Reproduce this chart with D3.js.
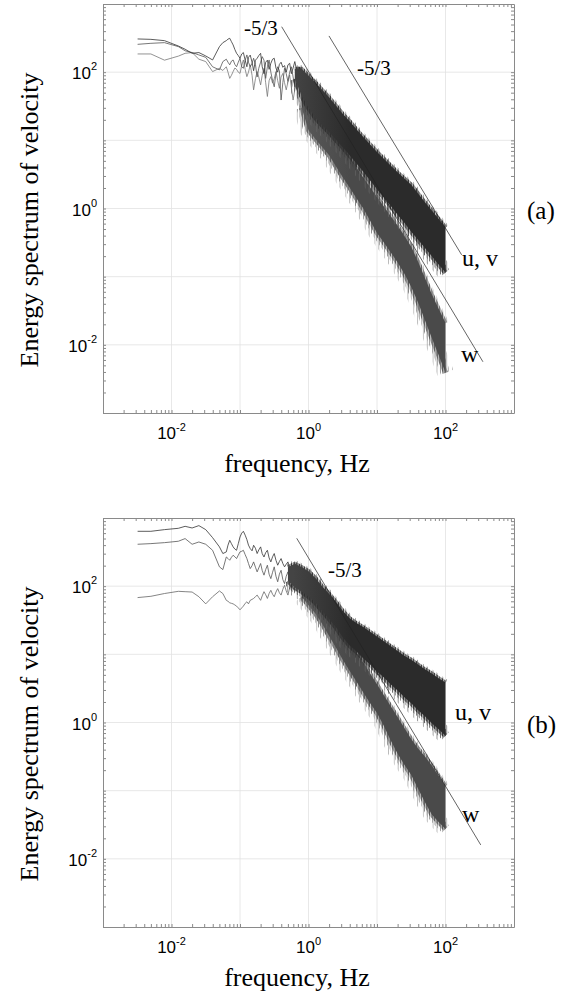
<!DOCTYPE html>
<html>
<head>
<meta charset="utf-8">
<script src="https://cdn.jsdelivr.net/npm/d3@7/dist/d3.min.js"></script>
<style>
  body { margin: 0; background: #fff; }
</style>
</head>
<body>
<script>
// low and middle frequency part of the spectra, one value per frequency
var lowFreq = [0.0032, 0.005, 0.0079, 0.0126, 0.0158, 0.02, 0.0251, 0.0316, 0.0398, 0.0501, 0.0562,
               0.0631, 0.0668, 0.0708, 0.075, 0.0794, 0.0841, 0.0891, 0.0944, 0.1,
               0.106, 0.112, 0.119, 0.126, 0.133, 0.141, 0.15, 0.158, 0.168, 0.178,
               0.188, 0.2, 0.211, 0.224, 0.237, 0.251, 0.266, 0.282, 0.299, 0.316,
               0.335, 0.355, 0.376, 0.398, 0.422, 0.447, 0.473, 0.501, 0.531, 0.562,
               0.596, 0.631, 0.668, 0.708, 0.75, 0.794, 0.841, 0.891, 0.944, 1.0];

// panel (a)
var uA = [307, 303, 290, 242, 217, 189, 194, 173, 151, 237, 271,
          290, 305, 314, 280, 251, 215, 189, 175, 160,
          185, 194, 150, 120, 165, 178, 140, 105, 150, 160,
          175, 189, 120, 95, 140, 150, 110, 135, 155, 160,
          115, 100, 130, 140, 118, 125, 100, 128, 135, 95,
          115, 143, 110, 92, 118, 105, 80, 95, 70, 85];
var vA = [256, 265, 271, 237, 206, 194, 179, 165, 120, 108, 143,
          155, 140, 128, 145, 151, 130, 120, 140, 160,
          120, 114, 150, 179, 140, 120, 135, 160, 130, 85,
          114, 140, 169, 150, 81, 120, 151, 100, 75, 61,
          95, 120, 105, 39, 70, 114, 95, 73, 100, 120,
          85, 61, 100, 120, 78, 49, 75, 86, 55, 45];
var wA = [185, 185, 150, 172, 189, 194, 155, 143, 102, 114, 106,
          120, 100, 81, 90, 102, 115, 110, 100, 96,
          125, 151, 110, 86, 100, 128, 90, 55, 80, 102,
          85, 65, 90, 114, 70, 44, 75, 86, 69, 80,
          102, 75, 58, 85, 96, 70, 55, 72, 91, 60,
          39, 55, 69, 45, 28, 40, 49, 30, 24, 35];

// panel (b)
var uB = [638, 638, 675, 706, 755, 714, 773, 675, 515, 377, 301,
          318, 400, 471, 420, 377, 350, 336, 420, 527,
          600, 638, 560, 482, 400, 356, 330, 398, 360, 301,
          340, 377, 300, 268, 310, 336, 260, 227, 270, 301,
          240, 203, 230, 254, 215, 192, 210, 227, 185, 162,
          190, 215, 180, 171, 185, 192, 150, 129, 150, 162];
var vB = [412, 421, 435, 456, 499, 412, 445, 412, 336, 192, 175,
          268, 255, 240, 265, 284, 270, 254, 285, 318,
          325, 336, 290, 254, 215, 181, 200, 227, 190, 162,
          185, 215, 170, 145, 175, 203, 150, 129, 160, 192,
          140, 116, 150, 171, 125, 109, 140, 162, 110, 87,
          120, 145, 105, 92, 118, 137, 95, 78, 100, 116];
var wB = [68, 71, 78, 84, 83, 82, 70, 55, 70, 85, 78,
          62, 60, 57, 56, 55, 53, 51, 48, 45,
          48, 51, 56, 59, 55, 62, 64, 66, 70, 74,
          68, 62, 72, 83, 75, 66, 78, 87, 76, 70,
          82, 92, 80, 74, 90, 103, 85, 74, 95, 109,
          95, 83, 100, 116, 92, 78, 98, 103, 85, 70];

// dense high frequency part: upper and lower edge of the noise
var bandFreq = [0.501, 0.631, 0.794, 1, 1.26, 1.58, 2, 2.51, 3.16, 3.98,
                5.01, 6.31, 7.94, 10, 12.6, 15.8, 20, 25.1, 31.6, 39.8,
                50.1, 63.1, 79.4, 100];

var uvTopA = [null, 112, 112, 89.1, 70.8, 55.0, 42.7, 32.4, 24.5, 19.1,
              14.5, 11.2, 8.71, 6.76, 5.37, 4.27, 3.39, 2.75, 2.24, 1.66,
              1.23, 0.933, 0.708, 0.525];
var uvBotA = [null, 80, 45, 30, 21.4, 16.6, 13.2, 10.2, 7.94, 6.03,
              4.57, 3.47, 2.57, 1.91, 1.45, 1.10, 0.813, 0.617, 0.457, 0.347,
              0.263, 0.200, 0.151, 0.115];
var wTopA = [null, null, 55, 38.0, 29.5, 22.4, 17.0, 12.6, 8.51, 5.75,
             3.98, 2.82, 2.04, 1.48, 1.07, 0.776, 0.562, 0.398, 0.275, 0.166,
             0.0955, 0.0550, 0.0339, 0.0209];
var wBotA = [null, null, 30, 14, 10.5, 8.0, 6.03, 4.17, 2.88, 2.04,
             1.41, 1.0, 0.661, 0.437, 0.316, 0.229, 0.162, 0.110, 0.0708, 0.0417,
             0.0229, 0.0126, 0.00708, 0.00389];

var uvTopB = [190, 214, 191, 166, 132, 100, 77.6, 58.9, 43.7, 33.9,
              28.8, 25.1, 21.4, 18.2, 15.5, 13.2, 11.2, 9.55, 8.32, 7.08,
              6.03, 5.25, 4.47, 3.85];
var uvBotB = [120, 95.5, 83.2, 70.8, 57.5, 43.7, 33.1, 25.1, 17.8, 13.5,
              11.0, 8.71, 7.08, 5.62, 4.57, 3.63, 2.95, 2.34, 1.91, 1.51,
              1.23, 0.977, 0.794, 0.638];
var wTopB = [null, null, 110, 112, 89.1, 66.1, 45.7, 31.6, 20.9, 14.5,
             10.7, 7.59, 5.25, 3.63, 2.51, 1.74, 1.20, 0.832, 0.575, 0.417,
             0.316, 0.234, 0.166, 0.117];
var wBotB = [null, null, 70, 52.5, 39.8, 28.2, 18.6, 12.6, 8.32, 5.75,
             3.98, 2.75, 1.91, 1.38, 0.891, 0.550, 0.347, 0.240, 0.170, 0.107,
             0.0676, 0.0447, 0.0347, 0.0275];

// -5/3 guide lines, [frequency, energy] at both ends
var slopesA = [[[0.406, 464], [352, 0.00564]], [[1.99, 340], [172, 0.209]]];
var slopesB = [[[0.673, 504], [327, 0.016]]];

var tickExp = [-2, 0, 2];

var w = 571, h = 996;
var left = 103, right = 514, ph = 409;
var serif = 'Liberation Serif, Times New Roman, serif';
var sans = 'Liberation Sans, Arial, sans-serif';

var svg = d3.select('body').append('svg')
            .attr('width', w)
            .attr('height', h);
var defs = svg.append('defs');

// vertical hair texture used along the edges of the noisy parts
function stripes(id, period, bars, color) {
  var p = defs.append('pattern').attr('id', id)
    .attr('patternUnits', 'userSpaceOnUse')
    .attr('width', period).attr('height', 4);
  bars.forEach(function (b) {
    p.append('rect').attr('x', b[0]).attr('y', 0)
      .attr('width', b[1]).attr('height', 4).attr('fill', color);
  });
}
stripes('uvDense', 2.6, [[0, 0.9], [1.5, 0.7]], '#2e2e2e');
stripes('uvMid', 5.3, [[0, 0.8], [2.9, 0.6]], '#3c3c3c');
stripes('uvSparse', 9.7, [[0, 0.7], [6.1, 0.6]], '#666');
stripes('wDense', 2.6, [[0, 0.9], [1.5, 0.7]], '#555');
stripes('wMid', 5.3, [[0, 0.8], [2.9, 0.6]], '#777');
stripes('wSparse', 9.7, [[0, 0.7], [6.1, 0.6]], '#a0a0a0');

function panel(id, top, lines, bands, slopes, notes, tag) {
  var x = d3.scaleLog().domain([1e-3, 1e3]).range([left, right]);
  var y = d3.scaleLog().domain([1e-3, 1e3]).range([top + ph, top]);
  var g = svg.append('g');

  // grid at every decade
  var decades = [0.01, 0.1, 1, 10, 100];
  g.selectAll('line.gx').data(decades).enter().append('line')
    .attr('class', 'gx')
    .attr('x1', d => x(d)).attr('x2', d => x(d))
    .attr('y1', top).attr('y2', top + ph)
    .attr('stroke', '#e2e2e2').attr('stroke-width', 0.8);
  g.selectAll('line.gy').data(decades).enter().append('line')
    .attr('class', 'gy')
    .attr('x1', left).attr('x2', right)
    .attr('y1', d => y(d)).attr('y2', d => y(d))
    .attr('stroke', '#e2e2e2').attr('stroke-width', 0.8);

  // frame with small inward ticks on all sides
  var minor = [];
  for (var e = -3; e < 3; e++)
    for (var k = 1; k < 10; k++) minor.push(k * Math.pow(10, e));
  function side(axis, tr) {
    g.append('g').attr('transform', tr)
      .call(axis.tickValues(minor).tickSize(-3).tickSizeOuter(0).tickFormat(''))
      .call(s => s.selectAll('line').attr('stroke', '#8a8a8a'))
      .call(s => s.select('.domain').attr('stroke', '#8a8a8a'));
  }
  side(d3.axisBottom(x), 'translate(0,' + (top + ph) + ')');
  side(d3.axisTop(x), 'translate(0,' + top + ')');
  side(d3.axisLeft(y), 'translate(' + left + ',0)');
  side(d3.axisRight(y), 'translate(' + right + ',0)');

  // tick labels 10^n
  tickExp.forEach(function (n) {
    var t = g.append('text')
      .attr('x', x(Math.pow(10, n)))
      .attr('y', top + ph + 26)
      .attr('text-anchor', 'middle')
      .attr('font-family', sans).attr('font-size', 17);
    t.append('tspan').text('10');
    t.append('tspan').attr('dy', -8).attr('font-size', 11).text(n);

    var s = g.append('text')
      .attr('x', left - 6)
      .attr('y', y(Math.pow(10, n)) + 7)
      .attr('text-anchor', 'end')
      .attr('font-family', sans).attr('font-size', 17);
    s.append('tspan').text('10');
    s.append('tspan').attr('dy', -9).attr('font-size', 11).text(n);
  });

  // spectra up to 1 Hz as thin lines
  var line = d3.line().x(d => x(d[0])).y(d => y(d[1]));
  lines.forEach(function (s) {
    g.append('path')
      .datum(lowFreq.map((f, i) => [f, s.values[i]]))
      .attr('d', line)
      .attr('fill', 'none')
      .attr('stroke', s.color)
      .attr('stroke-width', 0.8);
  });

  // dense part: hairy edges first, then the fill on top of their inner half
  var area = d3.area()
    .defined(d => d[1] != null)
    .x(d => x(d[0])).y0(d => y(d[2])).y1(d => y(d[1]));
  var edge = d3.line()
    .defined(d => d[1] != null)
    .x(d => x(d[0])).y(d => y(d[1]));

  bands.forEach(function (b, bi) {
    var gid = id + 'g' + bi;
    var grad = defs.append('linearGradient').attr('id', gid)
      .attr('gradientUnits', 'userSpaceOnUse')
      .attr('x1', x(0.6)).attr('x2', x(4)).attr('y1', 0).attr('y2', 0);
    grad.append('stop').attr('offset', 0).attr('stop-color', b.light);
    grad.append('stop').attr('offset', 1).attr('stop-color', b.fill);

    var pts = bandFreq.map((f, i) => [f, b.top[i], b.bot[i]]);
    var upper = pts.map(d => [d[0], d[1]]);
    var lower = pts.map(d => [d[0], d[2]]);

    [[lower, 17, b.pre + 'Sparse'], [lower, 10, b.pre + 'Mid'], [lower, 5, b.pre + 'Dense'],
     [upper, 7, b.pre + 'Sparse'], [upper, 4, b.pre + 'Dense']].forEach(function (hr) {
      g.append('path').datum(hr[0]).attr('d', edge)
        .attr('fill', 'none')
        .attr('stroke', 'url(#' + hr[2] + ')')
        .attr('stroke-width', hr[1]);
    });

    g.append('path').datum(pts).attr('d', area)
      .attr('fill', 'url(#' + gid + ')');
  });

  slopes.forEach(function (s) {
    g.append('path').datum(s).attr('d', line)
      .attr('fill', 'none').attr('stroke', '#222').attr('stroke-width', 0.7);
  });

  notes.forEach(function (n) {
    g.append('text')
      .attr('x', x(n.f)).attr('y', y(n.e))
      .attr('font-family', serif).attr('font-size', n.size)
      .text(n.text);
  });

  // axis titles and panel tag
  g.append('text')
    .attr('x', 297).attr('y', top + ph + 59)
    .attr('text-anchor', 'middle')
    .attr('font-family', serif).attr('font-size', 26)
    .text('frequency, Hz');
  g.append('text')
    .attr('transform', 'translate(38,' + (top + 216) + ') rotate(-90)')
    .attr('text-anchor', 'middle')
    .attr('font-family', serif).attr('font-size', 26)
    .text('Energy spectrum of velocity');
  g.append('text')
    .attr('x', 527).attr('y', top + 215)
    .attr('font-family', serif).attr('font-size', 25)
    .text(tag);
}

panel('a', 4,
  [{values: wA, color: '#777'}, {values: vA, color: '#555'}, {values: uA, color: '#333'}],
  [{top: wTopA, bot: wBotA, fill: '#4a4a4a', light: '#5a5a5a', pre: 'w'},
   {top: uvTopA, bot: uvBotA, fill: '#2b2b2b', light: '#444', pre: 'uv'}],
  slopesA,
  [{f: 0.114, e: 351, text: '-5/3', size: 21},
   {f: 5.1, e: 91, text: '-5/3', size: 21},
   {f: 174, e: 0.144, text: 'u, v', size: 24},
   {f: 168, e: 0.00564, text: 'w', size: 24}],
  '(a)');

panel('b', 518,
  [{values: wB, color: '#666'}, {values: vB, color: '#555'}, {values: uB, color: '#333'}],
  [{top: wTopB, bot: wBotB, fill: '#4a4a4a', light: '#5a5a5a', pre: 'w'},
   {top: uvTopB, bot: uvBotB, fill: '#2b2b2b', light: '#444', pre: 'uv'}],
  slopesB,
  [{f: 1.93, e: 136, text: '-5/3', size: 21},
   {f: 138, e: 1.09, text: 'u, v', size: 24},
   {f: 174, e: 0.0349, text: 'w', size: 24}],
  '(b)');
</script>
</body>
</html>
